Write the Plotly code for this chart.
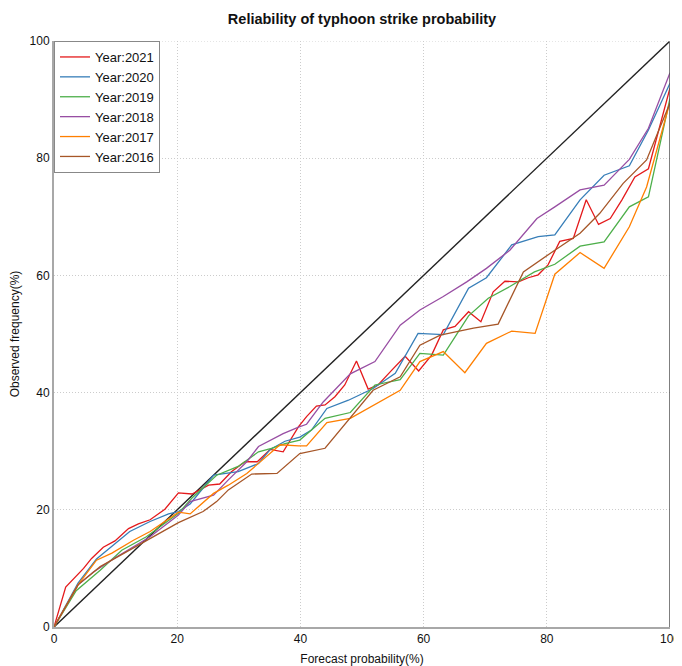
import plotly.graph_objects as go

# ---- data ----
x2021 = [0, 1.9, 4.8, 6.1, 8.0, 9.9, 12.1, 13.7, 15.6, 18.0, 20.2, 22.4, 25.1, 26.9, 28.8, 31.0, 33.0, 35.1, 37.2,
         39.7, 41.0, 42.6, 44.0, 45.6, 47.2, 49.1, 51.0, 52.6, 54.8, 57.0, 59.2, 61.3, 63.2, 65.1, 67.3, 69.3, 71.3,
         73.2, 75.4, 77.0, 78.6, 80.2, 82.1, 84.3, 86.4, 88.4, 90.3, 92.2, 94.3, 96.5, 100]
y2021 = [0, 6.8, 10.0, 11.7, 13.6, 14.7, 16.8, 17.6, 18.3, 20.1, 22.9, 22.7, 24.2, 24.4, 26.5, 28.2, 28.2, 30.3, 29.9,
         34.2, 35.9, 37.7, 37.9, 39.3, 41.3, 45.4, 40.6, 41.3, 43.8, 46.2, 43.7, 46.4, 50.7, 51.3, 53.8, 52.1, 57.2,
         59.0, 58.9, 59.6, 60.1, 61.8, 65.8, 66.3, 72.9, 68.7, 69.7, 72.9, 76.8, 78.2, 92.0]

x2020 = [0, 3.9, 6.9, 12.3, 15.6, 18.6, 20.2, 22.1, 25.9, 29.9, 33.2, 35.1, 37.5, 39.9, 41.8, 44.3, 47.8, 51.8, 55.4,
         59.1, 63.2, 67.3, 70.2, 74.3, 78.6, 81.3, 85.4, 89.3, 93.4, 96.5, 100]
y2020 = [0, 7.5, 11.6, 16.3, 18.0, 19.3, 19.7, 21.0, 25.9, 26.5, 27.9, 30.3, 31.7, 32.4, 33.6, 37.3, 38.7, 40.7, 43.3,
         50.1, 49.9, 57.8, 59.6, 65.2, 66.6, 66.9, 72.9, 77.1, 78.7, 84.8, 92.8]

x2019 = [0, 3.6, 7.5, 11.0, 15.0, 20.2, 22.4, 26.4, 29.9, 33.2, 35.3, 37.5, 39.9, 44.0, 48.1, 52.1, 56.2, 59.4, 63.2,
         67.3, 70.5, 74.0, 78.0, 81.3, 85.4, 89.3, 93.4, 96.5, 100]
y2019 = [0, 6.2, 9.7, 13.1, 15.4, 19.4, 22.0, 25.9, 27.4, 29.9, 30.5, 31.3, 31.9, 35.6, 36.6, 41.3, 42.2, 46.7, 46.4,
         53.1, 56.1, 58.1, 60.6, 61.9, 65.0, 65.7, 71.7, 73.4, 90.2]

x2018 = [0, 3.9, 6.4, 10.2, 15.6, 20.2, 22.1, 25.9, 28.3, 31.3, 33.2, 37.2, 39.7, 41.0, 43.7, 48.1, 52.1, 56.2, 59.4,
         63.2, 67.0, 70.2, 74.0, 78.4, 81.3, 85.4, 89.3, 93.4, 96.5, 100]
y2018 = [0, 7.2, 9.4, 12.0, 15.4, 19.1, 21.4, 22.5, 25.1, 28.2, 30.8, 33.0, 34.1, 34.6, 38.4, 43.2, 45.3, 51.5, 54.1,
         56.4, 58.9, 61.2, 64.3, 69.7, 71.7, 74.6, 75.4, 79.8, 85.1, 94.6]

x2017 = [0, 3.9, 6.9, 9.4, 12.9, 15.6, 20.2, 22.1, 25.9, 28.3, 31.3, 34.5, 36.7, 39.7, 41.0, 44.3, 48.1, 56.2, 59.4,
         63.2, 66.7, 70.2, 74.3, 78.1, 81.3, 85.4, 89.3, 93.4, 96.2, 100]
y2017 = [0, 7.2, 11.4, 12.6, 14.8, 16.3, 19.6, 19.3, 22.8, 24.2, 26.2, 29.1, 31.1, 30.9, 30.9, 34.9, 35.6, 40.4, 45.3,
         47.0, 43.4, 48.4, 50.5, 50.1, 60.2, 63.9, 61.2, 68.3, 75.1, 89.6]

x2016 = [0, 3.9, 7.5, 15.0, 20.2, 24.2, 26.4, 28.3, 32.1, 36.2, 39.9, 44.0, 51.8, 56.2, 59.4, 62.7, 68.1, 72.1, 76.2,
         81.3, 85.4, 88.6, 92.4, 96.2, 100]
y2016 = [0, 7.2, 10.3, 14.8, 17.8, 19.7, 21.4, 23.4, 26.1, 26.2, 29.6, 30.5, 40.4, 42.7, 48.1, 49.8, 51.0, 51.7, 60.6,
         64.3, 67.2, 70.6, 75.7, 79.7, 89.4]

series = [
    ("Year:2021", x2021, y2021, "#e41a1c"),
    ("Year:2020", x2020, y2020, "#377eb8"),
    ("Year:2019", x2019, y2019, "#4daf4a"),
    ("Year:2018", x2018, y2018, "#984ea3"),
    ("Year:2017", x2017, y2017, "#ff7f00"),
    ("Year:2016", x2016, y2016, "#a65628"),
]
diag = [0, 100]
ticks = [0, 20, 40, 60, 80, 100]

fig = go.Figure()
fig.add_trace(go.Scatter(x=diag, y=diag, mode="lines", line=dict(color="#222222", width=1.4),
                         showlegend=False, hoverinfo="skip"))
for name, xs, ys, col in series:
    fig.add_trace(go.Scatter(x=xs, y=ys, mode="lines", name=name, line=dict(color=col, width=1.3)))

font = "Liberation Sans, Arial, sans-serif"
grid = dict(showgrid=True, gridcolor="#cccccc", griddash="1px,2px", gridwidth=1,
            zeroline=False, showline=True, linecolor="#a8a8a8", linewidth=2, ticks="",
            automargin=False, range=[0, 100], tickvals=ticks)
fig.update_layout(
    width=674, height=658,
    margin=dict(l=46, r=12, t=33, b=39, autoexpand=False),
    paper_bgcolor="white", plot_bgcolor="white",
    font=dict(family=font, size=12, color="#111111"),
    title=dict(text="<b>Reliability of typhoon strike probability</b>", xref="paper", x=0.5,
               xanchor="center", yref="container", y=0.983, yanchor="middle",
               font=dict(size=14.5, color="#111111")),
    legend=dict(x=0, y=1, xanchor="left", yanchor="top", bgcolor="white",
                bordercolor="#888888", borderwidth=1, font=dict(size=13, color="#111111"),
                tracegroupgap=0),
    xaxis=dict(**grid, title=dict(text="Forecast probability(%)", standoff=18, font=dict(size=12))),
    yaxis=dict(**grid, title=dict(text="Observed frequency(%)", standoff=12, font=dict(size=12))),
)
fig.add_shape(type="line", xref="x", yref="y", x0=100, x1=100, y0=0, y1=100,
              line=dict(color="#555555", width=1.5))
fig.add_shape(type="line", xref="x", yref="y", x0=0, x1=100, y0=100, y1=100,
              line=dict(color="#cccccc", width=1, dash="1px,2px"))

fig.write_html("out.html")
